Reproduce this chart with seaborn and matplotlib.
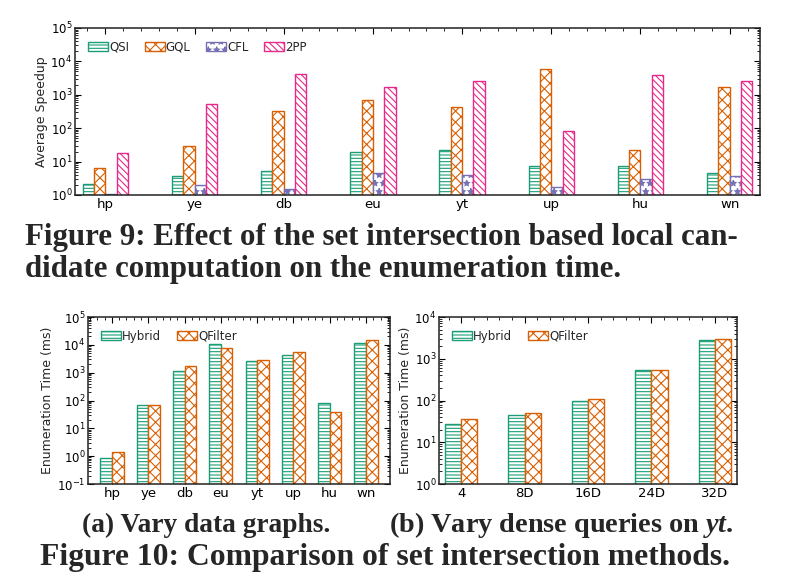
import numpy as np
import matplotlib
matplotlib.use('Agg')
import matplotlib.pyplot as plt
import matplotlib.ticker as mticker
from matplotlib.patches import Patch
import pandas as pd
import seaborn as sns

# Figure 9 data: average speedup per data graph
graphs = ['hp', 'ye', 'db', 'eu', 'yt', 'up', 'hu', 'wn']
qsi = [2.2, 3.8, 5.4, 20, 23, 7.2, 7.2, 4.5]
gql = [6.3, 29, 330, 700, 430, 6000, 23, 1700]
cfl = [1.1, 2.0, 1.5, 4.5, 4.0, 1.7, 3.0, 3.6]
tpp = [18, 520, 4300, 1700, 2600, 83, 3800, 2600]

# Figure 10a: enumeration time (ms) per data graph
hybrid_a = [0.85, 69, 1180, 10400, 2700, 4450, 81, 12000]
qfilter_a = [1.4, 68, 1690, 7700, 2950, 5500, 39, 15000]

# Figure 10b: enumeration time (ms) on yt, dense queries
dense = ['4', '8D', '16D', '24D', '32D']
hybrid_b = [27.5, 46, 95, 535, 2800]
qfilter_b = [36, 51, 106, 525, 3000]

sns.set_style('ticks')
plt.rcParams['font.family'] = ['DejaVu Sans']
plt.rcParams['hatch.linewidth'] = 0.8
plt.rcParams['mathtext.fontset'] = 'custom'
plt.rcParams['mathtext.it'] = 'Liberation Serif:italic:bold'

pal = sns.color_palette('Dark2', 4)
hatches = ['-----', 'xxx', '**', '\\\\\\\\\\']


def style_axes(ax, categories, pad, ylim, ylabel):
    ax.set_yscale('log')
    ax.set_ylim(*ylim)
    ax.set_xlim(-0.5 - pad, len(categories) - 0.5 + pad)
    ax.set_xlabel('')
    ax.set_ylabel(ylabel, fontsize=9, labelpad=2)
    ax.yaxis.set_major_locator(mticker.LogLocator(base=10, numticks=10))
    ax.yaxis.set_minor_locator(mticker.LogLocator(base=10, subs=np.arange(2, 10), numticks=10))
    ax.yaxis.set_minor_formatter(mticker.NullFormatter())
    ax.tick_params(axis='both', which='both', direction='in', top=True, right=True,
                   colors='black', pad=2)
    ax.tick_params(axis='x', labelsize=9.5)
    ax.tick_params(axis='y', labelsize=8.5)
    ax.tick_params(axis='both', which='major', length=4)
    ax.tick_params(axis='both', which='minor', length=2)
    ax.tick_params(axis='x', which='minor', bottom=False)
    ax.xaxis.set_minor_locator(mticker.MultipleLocator(0.2))
    for s in ax.spines.values():
        s.set_color('#222222')
        s.set_linewidth(1.1)


def hatch_bars(ax, names):
    handles = []
    for i, cont in enumerate(ax.containers):
        for bar in cont:
            bar.set_facecolor('white')
            bar.set_edgecolor(pal[i])
            bar.set_hatch(hatches[i])
            bar.set_linewidth(1.0)
        handles.append(Patch(facecolor='white', edgecolor=pal[i], hatch=hatches[i],
                             linewidth=1.0, label=names[i]))
    return handles


def add_legend(ax, handles):
    ax.legend(handles=handles, ncol=len(handles), loc='upper left', frameon=False,
              fontsize=8.5, handlelength=1.7, handleheight=0.8, handletextpad=0.1,
              columnspacing=1.3, borderaxespad=0.7)


fig = plt.figure(figsize=(7.86, 5.82), dpi=100)

# ---- Figure 9 ----
ax1 = fig.add_axes([75 / 786, 1 - 195 / 582, 685 / 786, 167 / 582])
methods = ['QSI', 'GQL', 'CFL', '2PP']
df9 = pd.DataFrame({'graph': graphs * 4,
                    'method': np.repeat(methods, len(graphs)),
                    'speedup': qsi + gql + cfl + tpp})
sns.barplot(data=df9, x='graph', y='speedup', hue='method', hue_order=methods,
            width=0.51, palette=pal, legend=False, ax=ax1)
h1 = hatch_bars(ax1, methods)
style_axes(ax1, graphs, -0.16, (1, 1e5), 'Average Speedup')
add_legend(ax1, h1)

# ---- Figure 10a ----
ax2 = fig.add_axes([88 / 786, 1 - 484 / 582, 302 / 786, 167 / 582])
df10a = pd.DataFrame({'graph': graphs * 2,
                      'method': np.repeat(['Hybrid', 'QFilter'], len(graphs)),
                      'time': hybrid_a + qfilter_a})
sns.barplot(data=df10a, x='graph', y='time', hue='method', width=0.64,
            palette=pal[:2], legend=False, ax=ax2)
h2 = hatch_bars(ax2, ['Hybrid', 'QFilter'])
style_axes(ax2, graphs, 0.16, (0.1, 1e5), 'Enumeration Time (ms)')
add_legend(ax2, h2)

# ---- Figure 10b ----
ax3 = fig.add_axes([439 / 786, 1 - 484 / 582, 298 / 786, 167 / 582])
df10b = pd.DataFrame({'query': dense * 2,
                      'method': np.repeat(['Hybrid', 'QFilter'], len(dense)),
                      'time': hybrid_b + qfilter_b})
sns.barplot(data=df10b, x='query', y='time', hue='method', width=0.51,
            palette=pal[:2], legend=False, ax=ax3)
h3 = hatch_bars(ax3, ['Hybrid', 'QFilter'])
style_axes(ax3, dense, -0.15, (1, 1e4), 'Enumeration Time (ms)')
add_legend(ax3, h3)

# ---- captions, scaled to span the same width as in the paper ----
renderer = fig.canvas.get_renderer()


def fit_text(x0, x1, y, s, size=None):
    t = fig.text(x0 / 786, 1 - y / 582, s, family='Liberation Serif', weight='bold',
                 fontsize=20, va='center', ha='left')
    if size is None:
        size = 20 * (x1 - x0) / t.get_window_extent(renderer).width
    t.set_fontsize(size)
    return size


fs9 = fit_text(25, 738, 237, 'Figure 9: Effect of the set intersection based local can-')
fit_text(25, None, 270, 'didate computation on the enumeration time.', size=fs9)
fit_text(82, 330, 525, '(a) Vary data graphs.')
fit_text(389, 733, 525, '(b) Vary dense queries on $\\mathit{yt}$.')
fit_text(40, 729, 558, 'Figure 10: Comparison of set intersection methods.')

fig.savefig('out.png', dpi=100)
